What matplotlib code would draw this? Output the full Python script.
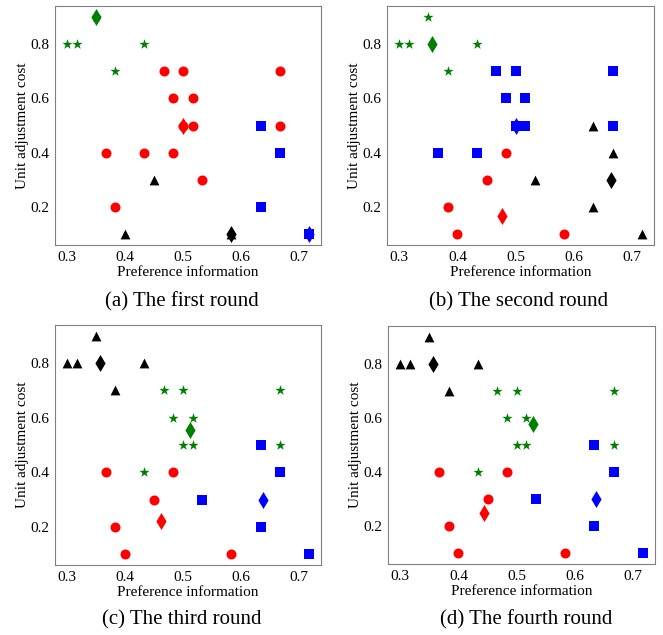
"""
K-means style clustering of preference information vs unit adjustment cost,
shown over four rounds.
"""

import matplotlib
matplotlib.use('Agg')
import matplotlib.pyplot as plt

# Data
# ------------------------------------------------------------------------------

pref = [0.35, 0.3, 0.3167, 0.4333, 0.3833,
        0.4667, 0.5, 0.6667, 0.4833, 0.5167,
        0.5, 0.5167, 0.6667, 0.6333, 0.3667,
        0.4333, 0.4833, 0.6667, 0.45, 0.5333,
        0.3833, 0.6333, 0.4, 0.5833, 0.7167]
cost = [0.9, 0.8, 0.8, 0.8, 0.7,
        0.7, 0.7, 0.7, 0.6, 0.6,
        0.5, 0.5, 0.5, 0.5, 0.4,
        0.4, 0.4, 0.4, 0.3, 0.3,
        0.2, 0.2, 0.1, 0.1, 0.1]

# cluster colour of every point in each round
labels_1 = ['g', 'g', 'g', 'g', 'g', 'r', 'r', 'r', 'r', 'r', 'r', 'r', 'r',
            'b', 'r', 'r', 'r', 'b', 'k', 'r', 'r', 'b', 'k', 'k', 'b']
labels_2 = ['g', 'g', 'g', 'g', 'g', 'b', 'b', 'b', 'b', 'b', 'b', 'b', 'b',
            'k', 'b', 'b', 'r', 'k', 'r', 'k', 'r', 'k', 'r', 'r', 'k']
labels_3 = ['k', 'k', 'k', 'k', 'k', 'g', 'g', 'g', 'g', 'g', 'g', 'g', 'g',
            'b', 'r', 'g', 'r', 'b', 'r', 'b', 'r', 'b', 'r', 'r', 'b']
labels_4 = list(labels_3)

# cluster centres (diamonds): colour -> (x, y)
centers_1 = {'g': (0.35, 0.9), 'r': (0.5, 0.5), 'k': (0.5833, 0.1), 'b': (0.7167, 0.1)}
centers_2 = {'g': (0.357, 0.8), 'b': (0.5, 0.5), 'r': (0.477, 0.167), 'k': (0.663, 0.3)}
centers_3 = {'k': (0.357, 0.8), 'g': (0.511, 0.556), 'r': (0.461, 0.22), 'b': (0.637, 0.3)}
centers_4 = {'k': (0.357, 0.8), 'g': (0.528, 0.578), 'r': (0.444, 0.25), 'b': (0.637, 0.3)}

captions = ['(a) The first round', '(b) The second round',
            '(c) The third round', '(d) The fourth round']

# Plot
# ------------------------------------------------------------------------------

plt.rcParams['font.family'] = ['Liberation Serif', 'DejaVu Serif']

colors = {'r': 'red', 'g': 'green', 'b': 'blue', 'k': 'black'}
markers = {'r': 'o', 'g': '*', 'b': 's', 'k': '^'}
sizes = {'r': 52, 'g': 60, 'b': 48, 'k': 50}

fig = plt.figure(figsize=(6.63, 6.35), dpi=100)

W, H = 663, 635
# axes boxes in pixels: left, top, right, bottom
boxes = [(55, 6, 321, 245), (387, 6, 654, 245),
         (55, 325, 321, 565), (388, 326, 655, 564)]
cap_pos = [(182, 302), (519, 302), (182, 620), (526, 620)]

rounds = [(labels_1, centers_1), (labels_2, centers_2),
          (labels_3, centers_3), (labels_4, centers_4)]

for i, (labels, centers) in enumerate(rounds):
    l, t, r, b = boxes[i]
    ax = fig.add_axes([l / W, 1 - b / H, (r - l) / W, (b - t) / H])

    for c in centers:
        cx, cy = centers[c]
        ax.scatter([cx], [cy], marker='d', s=75, c=colors[c], linewidths=0,
                   zorder=2)
    for c in ['r', 'g', 'b', 'k']:
        xs = [x for x, lab in zip(pref, labels) if lab == c]
        ys = [y for y, lab in zip(cost, labels) if lab == c]
        if xs:
            ax.scatter(xs, ys, marker=markers[c], s=sizes[c], c=colors[c],
                       linewidths=0, zorder=3)

    ax.set_xticks([0.3, 0.4, 0.5, 0.6, 0.7])
    ax.set_yticks([0.2, 0.4, 0.6, 0.8])
    ax.tick_params(labelsize=11, length=0, pad=4)
    for sp in ax.spines.values():
        sp.set_color('#808080')
    ax.set_xlabel('Preference information', fontsize=11, labelpad=2)
    ax.set_ylabel('Unit adjustment cost', fontsize=11, labelpad=1)

    cx, cy = cap_pos[i]
    fig.text(cx / W, 1 - cy / H, captions[i], fontsize=15,
             ha='center', va='center')

plt.savefig('out.png', dpi=100)
